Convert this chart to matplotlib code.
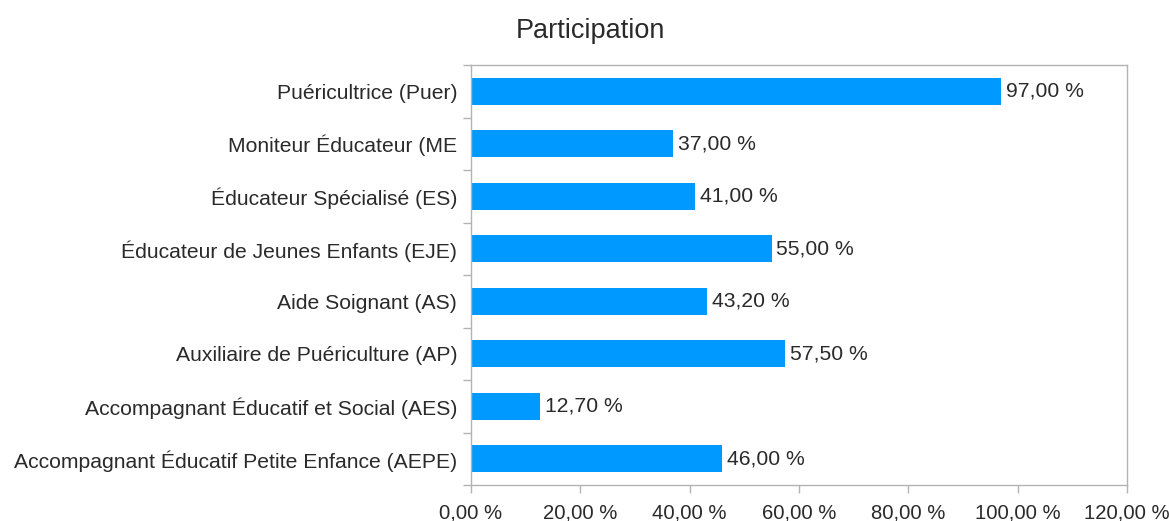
import matplotlib
matplotlib.use("Agg")
import matplotlib.pyplot as plt
import numpy as np

categories = [
    "Puéricultrice (Puer)",
    "Moniteur Éducateur (ME",
    "Éducateur Spécialisé (ES)",
    "Éducateur de Jeunes Enfants (EJE)",
    "Aide Soignant (AS)",
    "Auxiliaire de Puériculture (AP)",
    "Accompagnant Éducatif et Social (AES)",
    "Accompagnant Éducatif Petite Enfance (AEPE)",
]
values = [97.0, 37.0, 41.0, 55.0, 43.2, 57.5, 12.7, 46.0]
xticks = [0, 20, 40, 60, 80, 100, 120]

plt.rcParams['font.family'] = ['Liberation Sans', 'DejaVu Sans']

def fmt(v):
    return f"{v:.2f}".replace(".", ",") + " %"

FS = 15.2
XFS = 14.6
TXT = "#2a2a2a"
GRID = "#b3b3b3"

fig = plt.figure(figsize=(11.69, 5.21), dpi=100)
ax = fig.add_axes([471/1169, 1-485/521, (1127-471)/1169, (485-65)/521])

n = len(categories)
y = np.arange(n)
ax.barh(y, values, height=0.52, color="#0099ff", zorder=2)
ax.set_ylim(n - 0.5, -0.5)
ax.set_xlim(0, 120)

ax.set_yticks(y)
ax.set_yticklabels(categories, fontsize=FS, color=TXT)
ax.set_yticks(np.arange(n + 1) - 0.5, minor=True)
ax.tick_params(axis='y', which='major', length=0, pad=10)
ax.tick_params(axis='y', which='minor', length=6, direction='out', color=GRID, width=1)

ax.set_xticks(xticks)
ax.set_xticklabels([fmt(v) for v in xticks], fontsize=XFS, color=TXT)
ax.tick_params(axis='x', which='major', length=6, direction='out', color=GRID, width=1, pad=7)

for s in ax.spines.values():
    s.set_color(GRID)
    s.set_linewidth(1)

for yi, v in zip(y, values):
    ax.text(v + 0.8, yi, fmt(v), va='center', ha='left', fontsize=FS, color=TXT)

fig.text(0.505, 1-31/521, "Participation", ha='center', va='center', fontsize=19.5, color=TXT)

fig.savefig("out.png", dpi=100)
